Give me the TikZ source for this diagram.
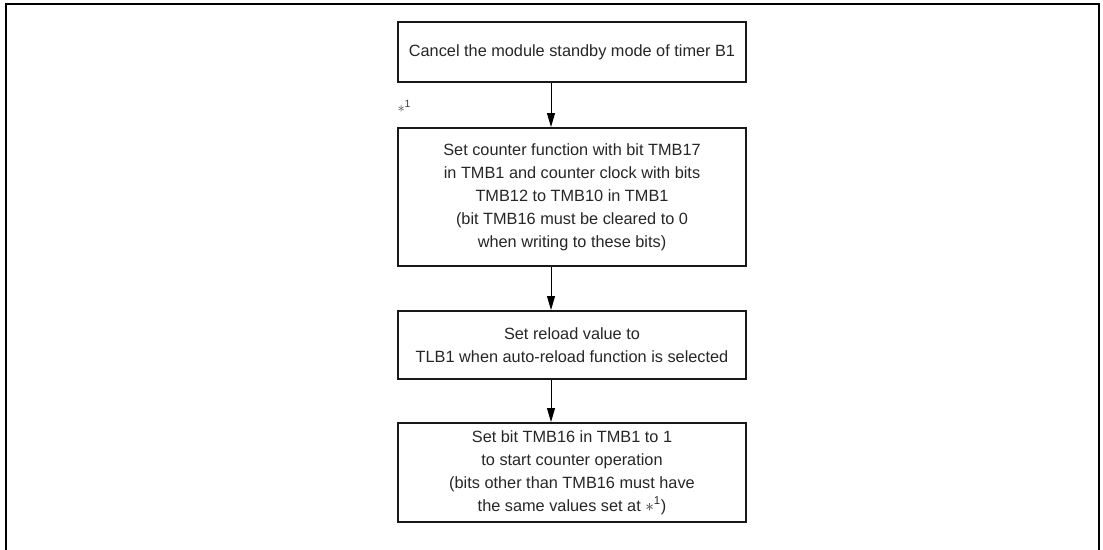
\documentclass[tikz,border=0pt]{standalone}
\usepackage{fontspec}
\setmainfont{Liberation Sans}
\usetikzlibrary{arrows.meta}
\tikzset{
  stepbox/.style={draw=black!90, line width=2pt, minimum width=348pt, align=center, inner sep=0pt,
    font=\fontsize{16.3}{23}\selectfont, text=black!85},
  flow/.style={line width=1pt, -{Triangle[length=14pt,width=8pt]}},
}
\newcommand{\astmark}{$\ast$\textsuperscript{1}}
\begin{document}
\begin{tikzpicture}[x=1pt,y=-1pt]
\useasboundingbox (0,0) rectangle (1103,549);
\draw[line width=2.5pt] (6,552) -- (6,4) -- (1099,4) -- (1099,552);
\node[stepbox, minimum height=60pt] (b1) at (572,52) {Cancel the module standby mode of timer B1};
\node[stepbox, minimum height=138pt] (b2) at (572,197) {Set counter function with bit TMB17\\in TMB1 and counter clock with bits\\TMB12 to TMB10 in TMB1\\(bit TMB16 must be cleared to 0\\when writing to these bits)};
\node[stepbox, minimum height=68pt] (b3) at (572,345) {Set reload value to\\TLB1 when auto-reload function is selected};
\node[stepbox, minimum height=99pt] (b4) at (572,472.5) {Set bit TMB16 in TMB1 to 1\\to start counter operation\\(bits other than TMB16 must have\\the same values set at \astmark)};
\node[anchor=west, font=\fontsize{15}{17}\selectfont, text=black!75] (m1) at (394,106) {\astmark};
\coordinate (ax) at (551,0);
\draw[flow] (b1.south -| ax) -- (b2.north -| ax);
\draw[flow] (b2.south -| ax) -- (b3.north -| ax);
\draw[flow] (b3.south -| ax) -- (b4.north -| ax);
\end{tikzpicture}
\end{document}
